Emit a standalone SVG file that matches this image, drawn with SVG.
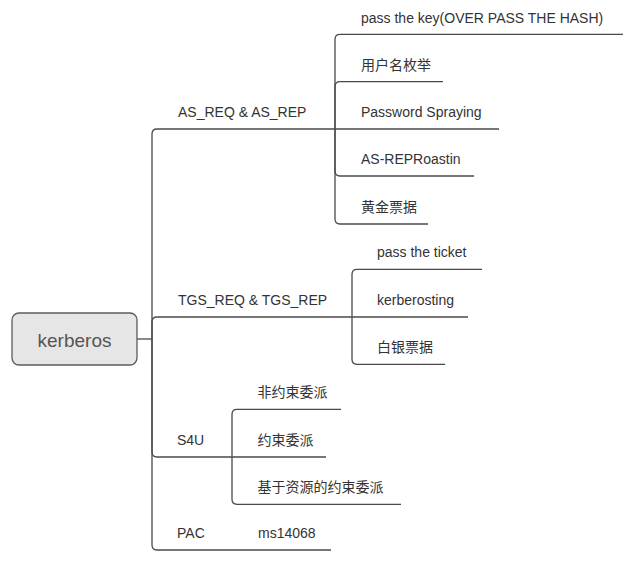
<svg xmlns="http://www.w3.org/2000/svg" width="635" height="561" viewBox="0 0 635 561">
<style>
text{font-family:"Liberation Sans","Noto Sans CJK SC",sans-serif;font-size:14px;fill:#333}
.ln{fill:none;stroke:#4a4a4a;stroke-width:1.3}
.root{fill:#e6e6e6;stroke:#5c5c5c;stroke-width:1.3}
.rt{font-size:19px;fill:#555;text-anchor:middle}
</style>
<rect width="635" height="561" fill="#fff"/>
<g id="connectors" class="ln">
<path d="M137,339 H152"/>
<path d="M152,339 V134 Q152,129 157,129"/>
<path d="M152,339 V322 Q152,317 157,317"/>
<path d="M152,339 V452 Q152,457 157,457"/>
<path d="M152,339 V545 Q152,550 157,550"/>
<path d="M335,129 V39.3 Q335,34.3 340,34.3"/>
<path d="M335,129 V86.7 Q335,81.7 340,81.7"/>
<path d="M335,129 V171 Q335,176 340,176"/>
<path d="M335,129 V219 Q335,224 340,224"/>
<path d="M352,317 V274.3 Q352,269.3 357,269.3"/>
<path d="M352,317 V359.3 Q352,364.3 357,364.3"/>
<path d="M232,457 V414.3 Q232,409.3 237,409.3"/>
<path d="M232,457 V499.3 Q232,504.3 237,504.3"/>
</g>
<g id="kerberos"><rect class="root" x="12" y="313" width="125" height="52" rx="7"/><text class="rt" x="74.5" y="346.5">kerberos</text></g>
<g id="as"><path class="ln" d="M157,129 H335"/><text x="178" y="116.5">AS_REQ &amp; AS_REP</text></g>
<g id="ptk"><path class="ln" d="M340,34.3 H623"/><text x="361" y="23">pass the key(OVER PASS THE HASH)</text></g>
<g id="enum"><path class="ln" d="M340,81.7 H443"/><text x="361" y="70">用户名枚举</text></g>
<g id="spray"><path class="ln" d="M335,129 H499"/><text x="361" y="116.5">Password Spraying</text></g>
<g id="asrep"><path class="ln" d="M340,176 H474"/><text x="361" y="164">AS-REPRoastin</text></g>
<g id="golden"><path class="ln" d="M340,224 H428"/><text x="361" y="212">黄金票据</text></g>
<g id="tgs"><path class="ln" d="M157,317 H352"/><text x="178" y="305">TGS_REQ &amp; TGS_REP</text></g>
<g id="ptt"><path class="ln" d="M357,269.3 H482"/><text x="377" y="257">pass the ticket</text></g>
<g id="kerberoast"><path class="ln" d="M352,317 H468"/><text x="377" y="305">kerberosting</text></g>
<g id="silver"><path class="ln" d="M357,364.3 H445"/><text x="377" y="352">白银票据</text></g>
<g id="s4u"><path class="ln" d="M157,457 H232"/><text x="177" y="445">S4U</text></g>
<g id="unconstrained"><path class="ln" d="M237,409.3 H341"/><text x="257.5" y="397">非约束委派</text></g>
<g id="constrained"><path class="ln" d="M232,457 H326"/><text x="257.5" y="445">约束委派</text></g>
<g id="rbcd"><path class="ln" d="M237,504.3 H401"/><text x="257.5" y="492">基于资源的约束委派</text></g>
<g id="pac"><path class="ln" d="M157,550 H232"/><text x="177" y="537.5">PAC</text></g>
<g id="ms14068"><path class="ln" d="M232,550 H331"/><text x="258" y="537.5">ms14068</text></g>
</svg>
